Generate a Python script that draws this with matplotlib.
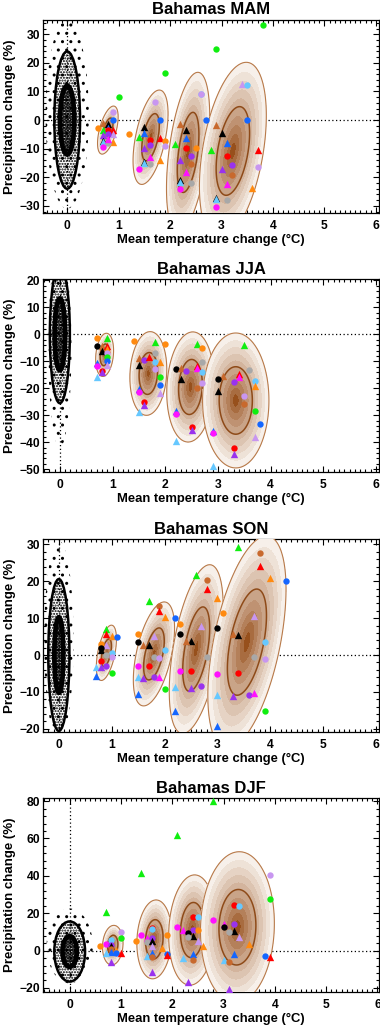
import numpy as np
import matplotlib
matplotlib.use("Agg")
import matplotlib.pyplot as plt
from matplotlib.patches import Ellipse
from matplotlib.colors import to_rgb
from matplotlib.ticker import MultipleLocator, AutoMinorLocator

plt.rcParams['font.family'] = ['Liberation Sans', 'DejaVu Sans']
plt.rcParams['font.weight'] = 'bold'
plt.rcParams['hatch.linewidth'] = 1.0

SEASONS = ["MAM", "JJA", "SON", "DJF"]
X_LABEL = "Mean temperature change (°C)"
Y_LABEL = "Precipitation change (%)"

# colour codes of the models
COLORS = {"k": "#000000", "r": "#FF0000", "b": "#1466FF", "c": "#66C8FF",
          "g": "#10EE10", "o": "#FF8A10", "p": "#9932EE", "m": "#FF10FF",
          "y": "#A8A8A8", "l": "#C896F0", "n": "#C8692D"}

# ---------------- model points (x = dT, y = dP) ----------------
MAM_X = [0.6, 1.0, 0.9, 0.9, 0.7, 0.8, 0.7, 0.8, 0.9, 0.8, 0.7, 0.9, 0.8, 0.9, 0.7, 0.7, 0.8, 0.7, 0.8,
         1.9, 1.7, 1.8, 1.2, 1.4, 1.5, 1.5, 1.6, 1.8, 1.9, 1.9, 1.5, 1.6, 1.6, 1.8, 1.5, 1.5, 1.6, 1.4,
         2.9, 2.6, 2.6, 2.7, 2.2, 2.3, 2.3, 2.1, 2.3, 2.5, 2.2, 2.4, 2.4, 2.3, 2.2, 2.2, 2.4, 2.2,
         3.8, 3.4, 3.5, 3.5, 2.9, 3.0, 3.1, 2.8, 3.1, 3.7, 3.2, 3.0, 3.2, 3.7, 3.1, 3.6, 2.9, 2.9, 3.1, 2.9]
MAM_Y = [-2.6, 8.2, 2.9, 0.0, -1.0, -1.3, -3.5, -2.8, -3.3, -3.6, -5.2, -4.8, -4.7, -7.6, -7.4, -7.8, -7.9, -9.3, -6.5,
         16.5, 6.2, 0.0, -5.0, -5.8, -2.3, -4.4, -6.8, -6.1, -7.3, -9.1, -9.7, -8.7, -12.8, -13.8, -14.5, -14.9, -15.3, -17.2,
         24.8, 9.0, 9.2, 0.0, -1.5, -3.4, -6.2, -8.5, -9.8, -9.7, -13.9, -12.4, -15.3, -18.0, -21.1, -21.5, -21.9, -24.2,
         33.2, 12.6, 12.2, 0.0, -1.8, -4.4, -8.0, -10.5, -12.6, -10.5, -15.8, -17.1, -19.3, -16.5, -22.2, -23.7, -27.2, -27.6, -27.8, -30.3]
MAM_C = ("o g l b n k g b r r p l p o k c y m m "
         "g l b o g k b r r o l p p m o k c y m "
         "g c l b n k b g r o p p n m k c y m "
         "g l c b n k b g r r p p n l m o k c y m").split()
MAM_M = ("o o o o t t t t t o t t o t t t o o t "
         "o o o o t t t o t o o t o t t t t o o "
         "o o o o t t t t o o t o o t t t o o "
         "o t o o t t t t o t o t o o t t t t o o").split()

JJA_X = [0.7, 0.9, 0.7, 0.8, 0.9, 0.9, 0.8, 0.9, 0.9, 0.9, 0.7, 0.9, 0.7, 0.8, 0.8, 0.7,
         1.4, 1.8, 2.0, 1.5, 1.5, 1.6, 1.7, 1.8, 1.8, 1.9, 1.8, 1.9, 1.9, 1.9, 1.5, 1.5, 1.6, 1.6, 1.5,
         2.6, 2.7, 2.2, 2.7, 2.6, 2.6, 2.3, 2.4, 2.7, 2.3, 2.7, 2.6, 2.2, 2.2, 2.5, 2.5, 2.2,
         3.5, 3.6, 3.1, 3.0, 3.4, 3.4, 3.3, 3.7, 3.7, 3.0, 3.5, 3.5, 3.7, 3.8, 2.9, 2.9, 3.7, 3.3, 3.3, 2.9]
JJA_Y = [-1.2, -1.5, -4.5, -4.2, -4.4, -5.5, -6.0, -7.0, -8.3, -10.0, -10.5, -11.5, -11.9, -13.6, -14.0, -15.8,
         -2.4, -2.7, -3.7, -8.6, -11.3, -9.5, -8.3, -7.0, -10.1, -10.4, -12.8, -15.7, -18.7, -21.6, -20.1, -21.5, -25.2, -26.0, -28.7,
         -3.4, -4.9, -12.8, -10.3, -11.7, -12.6, -12.5, -13.7, -14.0, -16.4, -18.0, -20.0, -28.3, -29.5, -34.4, -35.6, -39.5,
         -4.0, -13.2, -15.6, -16.4, -14.6, -15.8, -17.5, -17.2, -19.0, -21.1, -22.9, -25.7, -28.4, -33.2, -35.8, -36.6, -38.1, -42.3, -44.4, -48.9]
JJA_C = ("o g k n r o k l g b b l m r p c "
         "o g o n k p r y c o l g b l b m r p c "
         "g o k y r m n p c k l n b m r p c "
         "g y n k r m p c o k l n g b b m l r p c").split()
JJA_M = ("o t o t t t t o o o t t o o t t "
         "o t o t t o t o o t o o o t t o o t t "
         "t o o o t t t o o t o o t o o t t "
         "t o t o t t o o t t o o o o t o t o t t").split()

SON_X = [0.9, 0.9, 1.0, 1.1, 0.8, 0.9, 0.8, 0.8, 1.0, 0.9, 1.0, 0.8, 0.7, 0.8, 0.9, 1.0, 0.7,
         1.7, 1.9, 1.9, 2.0, 1.5, 1.8, 1.5, 1.6, 1.7, 2.0, 1.8, 1.9, 1.5, 1.7, 1.5, 1.6, 1.8, 1.9, 2.0, 1.5,
         2.6, 2.8, 2.8, 3.0, 2.2, 2.3, 2.7, 2.3, 2.5, 2.4, 2.8, 2.3, 2.5, 2.2, 2.5, 2.7, 2.2,
         3.4, 3.8, 3.8, 4.0, 4.3, 3.1, 3.7, 3.0, 3.3, 3.4, 3.9, 3.7, 3.9, 3.0, 3.4, 3.0, 3.3, 3.6, 3.7, 3.9, 3.0]
SON_Y = [7.1, 5.8, 5.2, 5.0, 2.9, 2.6, 2.0, 1.3, 0.5, -0.1, -0.4, -1.6, -3.2, -3.2, -3.0, -4.9, -5.6,
         14.6, 13.4, 12.0, 10.3, 5.6, 5.3, 3.5, 2.6, 2.6, 1.3, -0.4, -0.7, -3.0, -3.0, -6.0, -6.2, -6.0, -6.0, -9.1, -10.5,
         21.8, 20.4, 18.0, 15.5, 10.0, 8.5, 7.9, 5.6, 3.9, 3.7, -0.4, -4.2, -4.2, -8.6, -8.9, -8.5, -15.1,
         29.4, 27.6, 24.1, 20.8, 20.0, 11.5, 10.7, 7.4, 5.8, 5.4, 3.5, -0.6, -1.1, -5.1, -4.9, -10.9, -11.2, -10.9, -10.2, -15.3, -19.2]
SON_C = ("g r o b o l k k c y l r c p p g b "
         "g n r o o l k n k c y l m r c p p m g b "
         "g n r o b o l k k n y m r c p p b "
         "g n r o b o l k n k c y l m r c p p m g b").split()
SON_M = ("t t t o o t o t o o o o t t o o t "
         "t o t t o t o t t o o o o o t t o t o t "
         "t o t t o o t o t t o o o t t o t "
         "t o t t o o t o t t o o o o o t t o t o t").split()

DJF_X = [0.7, 1.0, 1.0, 0.8, 0.7, 0.6, 0.8, 0.8, 0.8, 0.9, 0.8, 0.9, 0.7, 1.0, 0.8,
         1.4, 1.6, 1.6, 1.4, 1.3, 1.5, 1.6, 1.5, 1.6, 1.9, 1.6, 1.8, 1.5, 1.6, 1.6, 1.9, 1.9, 1.6,
         2.1, 2.4, 2.5, 2.1, 2.2, 2.4, 2.5, 2.3, 2.4, 2.3, 2.5, 2.6, 2.2, 2.4, 2.4, 2.3,
         2.8, 3.9, 3.9, 3.2, 3.3, 2.8, 3.0, 3.2, 3.0, 3.2, 3.1, 3.3, 3.5, 3.0, 3.2, 3.1, 3.8, 3.9, 3.1]
DJF_Y = [20.5, 9.8, 6.8, 5.9, 3.7, 2.7, 3.2, 2.7, 0.8, 0.5, -0.9, -1.2, -1.3, -1.3, -6.2,
         41.6, 12.3, 11.6, 8.2, 5.3, 6.9, 6.9, 4.5, 4.9, 8.2, 2.7, 1.4, -2.7, -1.3, -3.6, -1.6, -2.5, -11.6,
         61.9, 18.2, 17.8, 12.4, 10.8, 10.8, 10.8, 9.3, 7.9, 7.2, 5.4, 2.2, -3.8, -2.0, -5.0, -16.7,
         79.8, 40.2, 27.8, 24.2, 23.7, 16.5, 14.2, 14.2, 12.4, 10.6, 9.9, 7.2, 3.6, -5.0, -2.0, -6.3, -2.9, -3.6, -20.3]
DJF_C = ("g l g c m o p k n o b b c r p "
         "g r c m o m p y k o l o c b n b r p "
         "g r c m m p o k k y l o c b n p "
         "g l g r c m m p k k y l o c b n b r p").split()
DJF_M = ("t o o o o o o t o t t o t t t "
         "t o o o o t o o t o t t t t o o t t "
         "t o o o t o o o t o t t t t o t "
         "t o o o o o t o o t o t t t t o o t t").split()

POINTS = {"MAM": (MAM_X, MAM_Y, MAM_C, MAM_M), "JJA": (JJA_X, JJA_Y, JJA_C, JJA_M),
          "SON": (SON_X, SON_Y, SON_C, SON_M), "DJF": (DJF_X, DJF_Y, DJF_C, DJF_M)}

# ---------------- ensemble density ellipses (centre, half extents, correlation) ----------------
ELL_CX = {"MAM": [0.79, 1.62, 2.35, 3.22], "JJA": [0.85, 1.68, 2.48, 3.34],
          "SON": [0.90, 1.80, 2.60, 3.56], "DJF": [0.84, 1.65, 2.39, 3.27]}
ELL_CY = {"MAM": [-3.5, -6.0, -11.3, -10.8], "JJA": [-7.6, -14.5, -19.5, -24.5],
          "SON": [0.6, 0.3, 1.6, 3.5], "DJF": [2.9, 6.0, 11.0, 12.5]}
ELL_SX = {"MAM": [0.20, 0.34, 0.42, 0.65], "JJA": [0.17, 0.35, 0.45, 0.63],
          "SON": [0.19, 0.39, 0.51, 0.74], "DJF": [0.20, 0.34, 0.46, 0.72]}
ELL_SY = {"MAM": [8.4, 16.5, 28.0, 31.0], "JJA": [8.0, 15.5, 20.4, 25.0],
          "SON": [7.5, 14.1, 22.9, 28.8], "DJF": [10.6, 21.1, 29.5, 40.4]}
ELL_RHO = {"MAM": [0.55, 0.5, 0.45, 0.4], "JJA": [0.2, 0.1, 0.1, 0.0],
           "SON": [0.5, 0.5, 0.5, 0.5], "DJF": [0.1, 0.1, 0.1, 0.05]}

# ---------------- natural variability cloud: (cy, outer sx, outer sy, inner sx, inner sy, spread cy, spread sx, spread sy)
NAT = {"MAM": (0.0, 0.25, 24.0, 0.14, 12.0, 2.0, 0.42, 33.0),
       "JJA": (0.0, 0.19, 25.5, 0.10, 13.3, -5.0, 0.22, 37.0),
       "SON": (0.0, 0.20, 20.6, 0.085, 10.2, 4.0, 0.28, 27.0),
       "DJF": (-0.5, 0.30, 16.1, 0.14, 8.2, 2.5, 0.45, 20.0)}

XLIM = {"MAM": (-0.47, 6.06), "JJA": (-0.32, 6.06), "SON": (-0.30, 6.06), "DJF": (-0.52, 6.03)}
YLIM = {"MAM": (-32.6, 35.0), "JJA": (-50.9, 20.4), "SON": (-20.8, 31.4), "DJF": (-22.0, 81.5)}
YSTEP = {"MAM": 10, "JJA": 10, "SON": 10, "DJF": 20}

W, H = 380, 1027
BOXES = [(43, 20, 379, 213.3), (43, 279.3, 379, 471.7), (43, 539.3, 379, 731.7), (43, 798.3, 379, 991.7)]

DARK = np.array(to_rgb("#97501C"))
LIGHT = np.array(to_rgb("#F7F0EA"))
NB = 10
BAND_COLS = [tuple(DARK + (LIGHT - DARK) * (i / (NB - 1)) ** 0.8) for i in range(NB)]


def draw_density(ax, cx, cy, sx, sy, rho, z):
    xs = np.linspace(cx - 1.05 * sx, cx + 1.05 * sx, 301)
    ys = np.linspace(cy - 1.05 * sy, cy + 1.05 * sy, 301)
    X, Y = np.meshgrid(xs, ys)
    u = (X - cx) / sx
    v = (Y - cy) / sy
    d = np.sqrt((u * u - 2 * rho * u * v + v * v) / (1 - rho ** 2))
    ax.contourf(X, Y, d, levels=np.linspace(0, 1, NB + 1), colors=BAND_COLS, zorder=z)
    ax.contour(X, Y, d, levels=[0.5], colors="#8E4A18", linewidths=1.1, zorder=z + 0.1)
    ax.contour(X, Y, d, levels=[1.0], colors="#B87A4A", linewidths=0.8, zorder=z + 0.1)


def draw_cloud(ax, p):
    cy, osx, osy, isx, isy, scy, ssx, ssy = p
    ax.add_patch(Ellipse((0, scy), 2 * ssx, 2 * ssy, facecolor="none", edgecolor="k", lw=0, hatch="..", zorder=2))
    ax.add_patch(Ellipse((0, cy), 2 * osx, 2 * osy, facecolor="none", edgecolor="k", lw=0, hatch="......", zorder=2))
    ax.add_patch(Ellipse((0, cy), 2 * isx, 2 * isy, facecolor="none", edgecolor="k", lw=0, hatch="............", zorder=2))
    ax.add_patch(Ellipse((0, cy), 2 * osx, 2 * osy, facecolor="none", edgecolor="k", lw=1.8, zorder=3))
    ax.add_patch(Ellipse((0, cy), 2 * isx, 2 * isy, facecolor="none", edgecolor="k", lw=3.4, zorder=3))


fig = plt.figure(figsize=(W / 100, H / 100), dpi=100)
for i, s in enumerate(SEASONS):
    l, t, r, b = BOXES[i]
    ax = fig.add_axes([l / W, 1 - b / H, (r - l) / W, (b - t) / H])
    ax.set_xlim(*XLIM[s])
    ax.set_ylim(*YLIM[s])
    ax.axhline(0, color="k", lw=0.9, ls=(0, (1, 2.0)), zorder=1)
    ax.axvline(0, color="k", lw=0.9, ls=(0, (1, 2.0)), zorder=1)
    draw_cloud(ax, NAT[s])
    for j in range(4):
        draw_density(ax, ELL_CX[s][j], ELL_CY[s][j], ELL_SX[s][j], ELL_SY[s][j], ELL_RHO[s][j], 4 + j)
    xs, ys, cs, ms = POINTS[s]
    for x, y, c, m in zip(xs, ys, cs, ms):
        if m == "o":
            ax.scatter(x, y, s=21, marker="o", color=COLORS[c], linewidths=0, zorder=20)
        else:
            ax.scatter(x, y, s=28, marker="^", color=COLORS[c], linewidths=0, zorder=20)
    ax.set_title(f"Bahamas {s}", fontsize=12, fontweight="bold", pad=4)
    ax.xaxis.set_major_locator(MultipleLocator(1))
    ax.xaxis.set_minor_locator(AutoMinorLocator(10))
    ax.yaxis.set_major_locator(MultipleLocator(YSTEP[s]))
    ax.yaxis.set_minor_locator(AutoMinorLocator(5))
    ax.tick_params(which="both", direction="in", top=True, right=True, width=0.8, labelsize=8.7)
    ax.tick_params(which="major", length=4)
    ax.tick_params(which="minor", length=2)
    ax.tick_params(axis="x", pad=5)
    ax.tick_params(axis="y", pad=2)
    for sp in ax.spines.values():
        sp.set_linewidth(0.9)
    ax.set_xlabel(X_LABEL, fontsize=9.4, fontweight="bold")
    ax.set_ylabel(Y_LABEL, fontsize=9.5, fontweight="bold")
    hh = b - t
    ax.xaxis.set_label_coords(0.5, -21 / hh)
    ax.yaxis.set_label_coords(-27 / (r - l), 0.5)

fig.savefig("out.png", dpi=100)
